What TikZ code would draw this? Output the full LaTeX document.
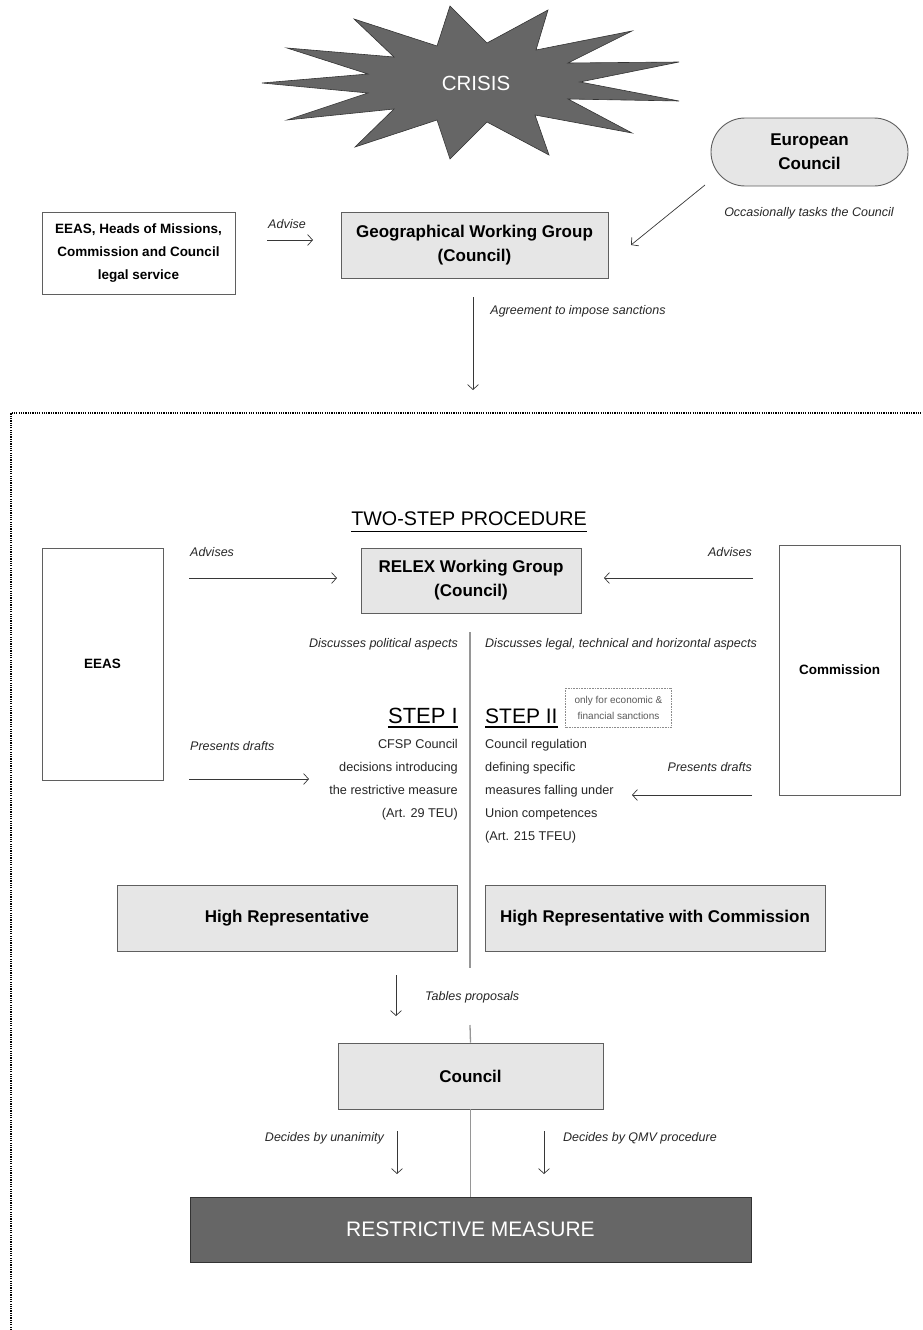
\documentclass[tikz,border=0pt]{standalone}
\usepackage{fontspec}
\setmainfont{Liberation Sans}
\usetikzlibrary{arrows.meta}
\definecolor{lightfill}{RGB}{230,230,230}
\definecolor{darkfill}{RGB}{102,102,102}
\definecolor{edgecol}{RGB}{95,95,95}
\definecolor{vlinecol}{RGB}{150,150,150}
\definecolor{arrcol}{RGB}{55,55,55}
\newcommand\myfs[2]{\fontsize{#1}{#2}\selectfont}
\tikzset{
  lightbox/.style={draw=edgecol, line width=0.9pt, fill=lightfill, align=center, inner sep=0pt, font=\bfseries\myfs{17}{24}},
  whitebox/.style={draw=edgecol, line width=0.9pt, fill=white, align=center, inner sep=0pt, font=\bfseries\myfs{13.5}{23}},
  lbl/.style={font=\itshape\myfs{12.5}{15}, inner sep=0pt, text=black!85},
  body/.style={font=\myfs{12.7}{23}, inner sep=0pt, text=black!85},
  arr/.style={draw=arrcol, line width=0.7pt, -{Straight Barb[length=5pt,width=11pt]}},
  sepline/.style={draw=vlinecol, line width=1.3pt},
}
\begin{document}
\begin{tikzpicture}[x=1pt,y=-1pt]
\useasboundingbox (0,0) rectangle (923,1330);

% crisis star
\draw[fill=darkfill, draw=black!80, line width=0.6pt]
 (262,83) -- (368,74) -- (287,48) -- (394,57) -- (354,19) -- (437,46) -- (450,6) -- (487,43)
 -- (548,10) -- (536,50) -- (632,31) -- (568,63) -- (679,62) -- (580,82) -- (679,101)
 -- (568,99) -- (632,133) -- (535,115) -- (549,155) -- (487,122) -- (450,159) -- (437,120)
 -- (355,147) -- (394,109) -- (287,120) -- (368,93) -- cycle;
\node[text=white, font=\myfs{20.5}{24}, inner sep=0pt] (crisis) at (476,83) {CRISIS};

% top part
\node[whitebox, minimum width=193pt, minimum height=82pt] (advisors) at (138.5,253)
  {EEAS, Heads of Missions,\\Commission and Council\\legal service};
\node[lightbox, minimum width=267pt, minimum height=66pt] (geo) at (474.5,245)
  {Geographical Working Group\\(Council)};
\node[lightbox, minimum width=197pt, minimum height=68pt, rounded corners=34pt] (euco) at (809.5,152)
  {European\\Council};
\node[lbl] (advise) at (287,224) {Advise};
\coordinate (a1s) at (267,240);
\coordinate (a1e) at (313,240);
\draw[arr] (a1s) -- (a1e);
\coordinate (a2s) at (705,185);
\coordinate (a2e) at (631,245);
\draw[arr] (a2s) -- (a2e);
\node[lbl] (tasks) at (809,213) {Occasionally tasks the Council};
\coordinate (a3s) at (473,297);
\coordinate (a3e) at (473,390);
\draw[arr] (a3s) -- (a3e);
\node[lbl] (agree) at (578,311) {Agreement to impose sanctions};

% dotted frame
\coordinate (fbl) at (11,1330);
\coordinate (ftl) at (11,413);
\coordinate (ftr) at (923,413);
\draw[line width=1.5pt, dash pattern=on 1.2pt off 1.1pt] (fbl) -- (ftl) -- (ftr);

% two-step title
\node[font=\myfs{19.7}{22}, inner sep=0pt, anchor=base] (twostep) at (469,525) {TWO-STEP PROCEDURE};
\draw[line width=1pt] ([yshift=-6pt]twostep.base west) -- ([yshift=-6pt]twostep.base east);

% side boxes
\node[whitebox, minimum width=121pt, minimum height=232pt] (eeas) at (102.5,664) {EEAS};
\node[whitebox, minimum width=121pt, minimum height=250pt] (comm) at (839.5,670) {Commission};
\node[lightbox, minimum width=220pt, minimum height=65pt] (relex) at (471,580.5)
  {RELEX Working Group\\(Council)};

\node[lbl, anchor=west] (adv1) at (190,552) {Advises};
\coordinate (b1s) at (189,578);
\coordinate (b1e) at (337,578);
\draw[arr] (b1s) -- (b1e);
\node[lbl, anchor=east] (adv2) at (752,552) {Advises};
\coordinate (b2s) at (753,578);
\coordinate (b2e) at (604,578);
\draw[arr] (b2s) -- (b2e);

% central separator
\coordinate (v1t) at (470,632);
\coordinate (v1b) at (470,968);
\draw[sepline] (v1t) -- (v1b);

\node[lbl, anchor=east] (pol) at (458,644) {Discusses political aspects};
\node[lbl, anchor=west] (legal) at (485,644) {Discusses legal, technical and horizontal aspects};

% steps
\node[font=\myfs{22}{26}, inner sep=0pt, anchor=base east] (step1) at (458,723) {STEP I};
\draw[line width=1.6pt] ([yshift=-4pt]step1.base west) -- ([yshift=-4pt]step1.base east);
\node[font=\myfs{21}{26}, inner sep=0pt, anchor=base west] (step2) at (485,723) {STEP II};
\draw[line width=1.6pt] ([yshift=-4pt]step2.base west) -- ([yshift=-4pt]step2.base east);
\node[draw=black!45, dash pattern=on 0.8pt off 0.8pt, line width=0.6pt, font=\myfs{10}{16}, text=black!65,
  align=center, minimum width=106pt, minimum height=39pt, inner sep=0pt] (only) at (618.5,707.5)
  {only for economic \&\\financial sanctions};

\node[body, anchor=north east, align=right] (s1text) at (458,739)
  {CFSP Council\\decisions introducing\\the restrictive measure\\(Art. 29 TEU)};
\node[body, anchor=north west, align=left] (s2text) at (485,739)
  {Council regulation\\defining specific\\measures falling under\\Union competences\\(Art. 215 TFEU)};

\node[lbl, anchor=west] (pd1) at (190,746) {Presents drafts};
\coordinate (c1s) at (189,779);
\coordinate (c1e) at (309,779);
\draw[arr] (c1s) -- (c1e);
\node[lbl, anchor=east] (pd2) at (752,767) {Presents drafts};
\coordinate (c2s) at (752,795);
\coordinate (c2e) at (632,795);
\draw[arr] (c2s) -- (c2e);

% high representative
\node[lightbox, minimum width=340pt, minimum height=66pt] (hr) at (287,918) {High Representative};
\node[lightbox, minimum width=340pt, minimum height=66pt] (hrc) at (655,918) {High Representative with Commission};

\coordinate (d1s) at (396,975);
\coordinate (d1e) at (396,1016);
\draw[arr] (d1s) -- (d1e);
\node[lbl, anchor=west] (tables) at (425,997) {Tables proposals};

% council
\node[lightbox, minimum width=265pt, minimum height=66pt] (council) at (470.5,1076) {Council};
\coordinate (v2t) at (470,1025);
\draw[sepline] (v2t) -- (council.north);

\node[draw=black!80, line width=0.9pt, fill=darkfill, text=white, font=\myfs{21}{24},
  minimum width=561pt, minimum height=65pt, inner sep=0pt] (rm) at (470.5,1229.5) {RESTRICTIVE MEASURE};
\draw[sepline] (council.south) -- (rm.north);

\coordinate (e1s) at (397,1131);
\coordinate (e1e) at (397,1174);
\draw[arr] (e1s) -- (e1e);
\node[lbl, anchor=east] (unan) at (384,1138) {Decides by unanimity};
\coordinate (e2s) at (544,1131);
\coordinate (e2e) at (544,1174);
\draw[arr] (e2s) -- (e2e);
\node[lbl, anchor=west] (qmv) at (563,1138) {Decides by QMV procedure};
\end{tikzpicture}
\end{document}
